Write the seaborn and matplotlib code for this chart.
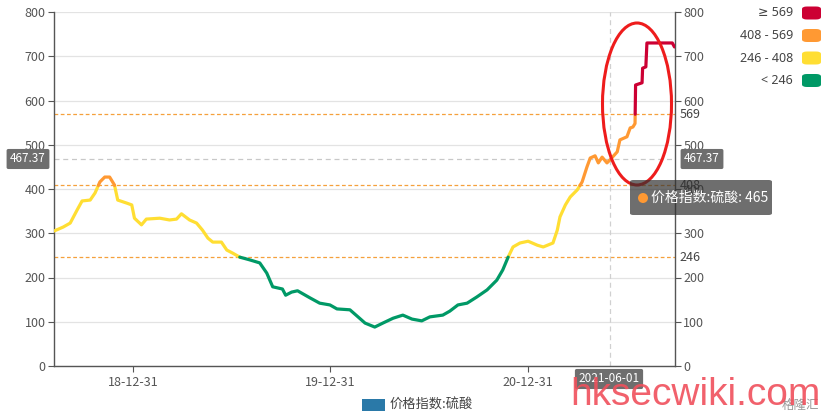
import pandas as pd
import numpy as np
import matplotlib
matplotlib.use('Agg')
import matplotlib.pyplot as plt
import matplotlib.dates as mdates
from matplotlib.patches import Ellipse, FancyBboxPatch, Rectangle
import seaborn as sns

# price index data
dates = ['2018-08-07', '2018-08-24', '2018-09-06', '2018-09-19', '2018-09-28', '2018-10-13',
         '2018-10-22', '2018-10-31', '2018-11-09', '2018-11-18', '2018-11-27', '2018-12-03',
         '2018-12-20', '2018-12-29', '2019-01-03', '2019-01-16', '2019-01-25', '2019-02-19',
         '2019-03-09', '2019-03-22', '2019-03-31', '2019-04-15', '2019-04-28', '2019-05-09',
         '2019-05-19', '2019-05-28', '2019-06-13', '2019-06-23', '2019-07-04', '2019-07-17',
         '2019-08-04', '2019-08-23', '2019-09-05', '2019-09-16', '2019-10-04', '2019-10-10',
         '2019-10-21', '2019-11-01', '2019-11-24', '2019-12-12', '2019-12-31', '2020-01-13',
         '2020-02-06', '2020-02-21', '2020-03-05', '2020-03-23', '2020-04-07', '2020-04-26',
         '2020-05-14', '2020-05-31', '2020-06-18', '2020-07-03', '2020-07-27', '2020-08-09',
         '2020-08-24', '2020-09-10', '2020-09-28', '2020-10-17', '2020-11-04', '2020-11-15',
         '2020-11-25', '2020-12-04', '2020-12-17', '2021-01-01', '2021-01-18', '2021-01-29',
         '2021-02-16', '2021-02-24', '2021-03-01', '2021-03-11', '2021-03-20', '2021-04-02',
         '2021-04-11', '2021-04-20', '2021-04-26', '2021-05-05', '2021-05-11', '2021-05-18',
         '2021-05-27', '2021-06-01', '2021-06-15', '2021-06-20', '2021-07-03', '2021-07-09',
         '2021-07-14', '2021-07-18', '2021-07-19', '2021-07-31', '2021-08-01', '2021-08-07',
         '2021-08-09', '2021-09-25', '2021-09-29']
values = [305, 314, 323, 353, 373, 375,
          391, 416, 427, 427, 409, 375,
          368, 364, 334, 319, 332, 334,
          330, 332, 344, 330, 323, 307,
          289, 280, 280, 262, 255, 246,
          240, 233, 210, 179, 174, 160,
          167, 170, 154, 142, 138, 129,
          127, 111, 97, 88, 97, 108,
          115, 106, 102, 111, 115, 124,
          138, 142, 156, 172, 194, 217,
          246, 269, 278, 282, 273, 269,
          278, 307, 337, 364, 382, 398,
          416, 450, 470, 475, 459, 472,
          459, 465, 484, 511, 518, 538,
          540, 548, 635, 640, 673, 676,
          730, 730, 721]

thresholds = [246, 408, 569]
band_names = ['< 246', '246 - 408', '408 - 569', '≥ 569']
band_colors = ['#009966', '#ffde33', '#ff9933', '#cc0033']
y_ticks = [0, 100, 200, 300, 400, 500, 600, 700, 800]
x_ticks = ['2018-12-31', '2019-12-31', '2020-12-31']
pointer_date = '2021-06-01'
pointer_value = 467.37
tooltip_value = 465
series_name = '价格指数:硫酸'


def band_of(v):
    return int(np.searchsorted(thresholds, v, side='right'))


# split the line into runs of one colour band, with shared points on the thresholds
d = pd.to_datetime(dates)
rows = []
run = 0
for i in range(len(d)):
    rows.append((d[i], values[i], band_of(values[i]), run))
    if i == len(d) - 1:
        break
    b0, b1 = band_of(values[i]), band_of(values[i + 1])
    if b0 != b1:
        lo, hi = sorted([b0, b1])
        cross = thresholds[lo:hi]
        if b1 < b0:
            cross = cross[::-1]
        for t in cross:
            frac = (t - values[i]) / (values[i + 1] - values[i])
            tc = d[i] + (d[i + 1] - d[i]) * frac
            rows.append((tc, t, rows[-1][2], run))
            run += 1
            nb = band_of(t + (0.01 if b1 > b0 else -0.01))
            rows.append((tc, t, nb, run))
df = pd.DataFrame(rows, columns=['date', 'value', 'band', 'run'])
df['band'] = df['band'].map(lambda b: band_names[b])

sns.set_style('white')
plt.rcParams['font.family'] = ['Noto Sans CJK SC', 'DejaVu Sans']

W, H = 831, 418
fig = plt.figure(figsize=(W / 100, H / 100), dpi=100)


def px(x, y):
    return x / W, 1 - y / H


ax = fig.add_axes([54 / W, 52 / H, 621 / W, 354 / H])

# grid
for v in y_ticks:
    ax.axhline(v, color='#e3e3e3', lw=0.9, zorder=0)

# threshold mark lines
for t in thresholds:
    ax.axhline(t, color='#f5a03c', lw=0.9, ls=(0, (3, 2)), zorder=1)

# axis pointer cross
ax.axhline(pointer_value, color='#c8c8c8', lw=0.9, ls=(0, (4, 3)), zorder=1)
ax.axvline(pd.Timestamp(pointer_date), color='#d0d0d0', lw=0.9, ls=(0, (4, 3)), zorder=1)

sns.lineplot(data=df, x='date', y='value', hue='band', units='run', estimator=None,
             sort=False, palette=dict(zip(band_names, band_colors)), legend=False,
             linewidth=2.3, ax=ax, zorder=3)

ax.set_xlim(pd.Timestamp('2018-08-07'), pd.Timestamp('2021-09-30'))
ax.set_ylim(0, 800)
ax.set_yticks(y_ticks)
ax.set_xticks(pd.to_datetime(x_ticks))
ax.xaxis.set_major_formatter(mdates.DateFormatter('%y-%m-%d'))
ax.set_xlabel('')
ax.set_ylabel('')
for s in ['left', 'right', 'bottom']:
    ax.spines[s].set_visible(True)
    ax.spines[s].set_color('#555555')
    ax.spines[s].set_linewidth(1.0)
ax.spines['top'].set_visible(False)
ax.tick_params(axis='y', left=True, right=True, labelleft=True, labelright=True,
               length=4, width=0.8, color='#555555', labelcolor='#555555', labelsize=9, pad=2)
ax.tick_params(axis='x', bottom=True, length=4, width=0.8, color='#555555',
               labelcolor='#555555', labelsize=9, pad=3)

# threshold labels on the right
for t in thresholds:
    ax.text(1.008, t, str(t), transform=ax.get_yaxis_transform(), va='center', ha='left',
            fontsize=9, color='#444444', zorder=6)

# pointer labels
box = dict(boxstyle='round,pad=0.3,rounding_size=0.15', fc='#6e6e6e', ec='none')
fig.text(*px(28, 159), '467.37', ha='center', va='center', fontsize=8.5, color='white', bbox=box)
fig.text(*px(702, 159), '467.37', ha='center', va='center', fontsize=8.5, color='white', bbox=box)
fig.text(*px(609, 379), '2021-06-01', ha='center', va='center', fontsize=8.5, color='white', bbox=box)

# tooltip (semi transparent, labels show through)
tip = FancyBboxPatch(px(630, 215), 142 / W, 35 / H, boxstyle='round,pad=0,rounding_size=0.004',
                     transform=fig.transFigure, fc='#303030', ec='none', alpha=0.7, zorder=10)
fig.add_artist(tip)
fig.add_artist(Ellipse(px(643, 198), 10 / W, 10 / H, transform=fig.transFigure,
                       fc='#ff9933', ec='none', zorder=11))
fig.text(*px(651, 198), f'{series_name}: {tooltip_value}', ha='left', va='center',
         fontsize=10, color='white', zorder=12)

# red ellipse annotation
fig.add_artist(Ellipse(px(637, 104), 69 / W, 162 / H, transform=fig.transFigure,
                       fc='none', ec='#ee1c1c', lw=2.2, zorder=9))

# visual map legend (top right)
for i, (name, col) in enumerate(zip(band_names[::-1], band_colors[::-1])):
    yc = 13 + i * 22.5
    fig.add_artist(FancyBboxPatch(px(802, yc + 6.5), 19 / W, 13 / H,
                                  boxstyle='round,pad=0,rounding_size=0.006',
                                  transform=fig.transFigure, fc=col, ec='none'))
    fig.text(*px(793, yc), name, ha='right', va='center', fontsize=9, color='#444444',
             family=['Noto Sans', 'DejaVu Sans'])

# series legend (bottom)
fig.add_artist(Rectangle(px(362, 411), 23 / W, 12 / H, transform=fig.transFigure,
                         fc='#2a79a8', ec='none'))
fig.text(*px(390, 405), series_name, ha='left', va='center', fontsize=9.5, color='#444444')

# watermarks
fig.text(*px(800, 405), '格隆汇', ha='center', va='center', fontsize=9, color='#9a9a9a')
fig.text(*px(570, 395), 'hksecwiki.com', ha='left', va='center', fontsize=28,
         family='Liberation Sans', color='#f0505c', alpha=0.9, zorder=20)

fig.savefig('out.png', dpi=100)
plt.close(fig)
